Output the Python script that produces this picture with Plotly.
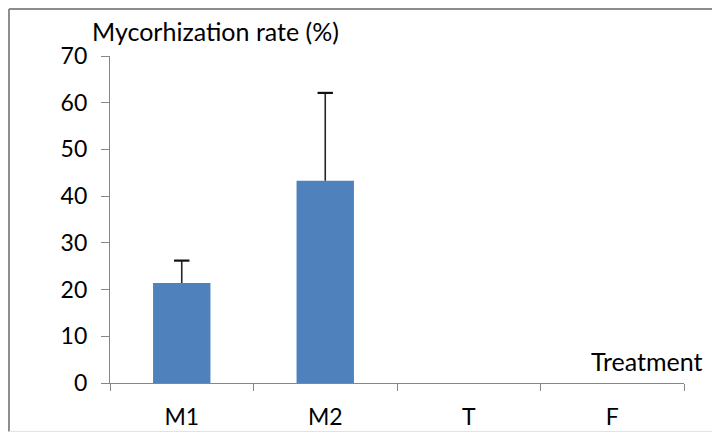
import plotly.graph_objects as go

categories = ["M1", "M2", "T", "F"]
rates = [21.4, 43.3, 0, 0]
errors_plus = [4.8, 18.8, None, None]
y_ticks = [0, 10, 20, 30, 40, 50, 60, 70]

FONT = "Lato"
AXIS_COLOR = "#868686"

fig = go.Figure()
fig.add_trace(go.Bar(
    x=categories,
    y=rates,
    width=0.4,
    marker=dict(color="#4f81bd", line=dict(width=0)),
))

# error bars (plus direction only), built from the data arrays
ex, ey, cx, cy = [], [], [], []
for c, r, e in zip(categories, rates, errors_plus):
    if e is None:
        continue
    ex += [c, c, None]
    ey += [r, r + e, None]
    cx.append(c)
    cy.append(r + e)
fig.add_trace(go.Scatter(x=ex, y=ey, mode="lines",
                         line=dict(color="#262626", width=1.6), hoverinfo="skip"))
fig.add_trace(go.Scatter(x=cx, y=cy, mode="markers",
                         marker=dict(symbol="line-ew", size=11,
                                     line=dict(color="#111111", width=2.2)),
                         hoverinfo="skip"))

fig.update_layout(
    width=720, height=432,
    margin=dict(l=102, r=44, t=48, b=57, pad=0, autoexpand=False),
    paper_bgcolor="white", plot_bgcolor="white",
    showlegend=False,
    font=dict(family=FONT, size=23, color="black"),
)
fig.update_xaxes(
    type="category", automargin=False,
    showline=True, linecolor=AXIS_COLOR, linewidth=1.3,
    ticks="outside", tickson="boundaries", ticklen=7, tickcolor=AXIS_COLOR, tickwidth=1.3,
    showgrid=False, zeroline=False,
    tickfont=dict(family=FONT, size=23),
    ticklabelstandoff=13,
)
fig.update_yaxes(
    range=[0, 70], tickvals=y_ticks, automargin=False,
    showline=True, linecolor=AXIS_COLOR, linewidth=1.3,
    ticks="outside", ticklen=8, tickcolor=AXIS_COLOR, tickwidth=1.3,
    showgrid=False, zeroline=False,
    tickfont=dict(family=FONT, size=23),
    ticklabelstandoff=9,
)

fig.add_annotation(text="Mycorhization rate (%)", xref="paper", yref="paper",
                   x=-0.0348, y=1.076, xanchor="left", yanchor="middle",
                   showarrow=False, font=dict(family=FONT, size=25))
fig.add_annotation(text="Treatment", xref="paper", yref="paper",
                   x=1.037, y=0.066, xanchor="right", yanchor="middle",
                   showarrow=False, font=dict(family=FONT, size=25))

# chart frame
fig.add_shape(type="line", xref="paper", yref="paper", x0=-0.176, x1=-0.176, y0=-0.148, y1=1.144,
              line=dict(color="#8c8c8c", width=2))
fig.add_shape(type="line", xref="paper", yref="paper", x0=-0.176, x1=1.1, y0=1.144, y1=1.144,
              line=dict(color="#8c8c8c", width=2))
fig.add_shape(type="line", xref="paper", yref="paper", x0=-0.176, x1=1.1, y0=-0.148, y1=-0.148,
              line=dict(color="#e0e0e0", width=1))

fig.write_html("out.html")
